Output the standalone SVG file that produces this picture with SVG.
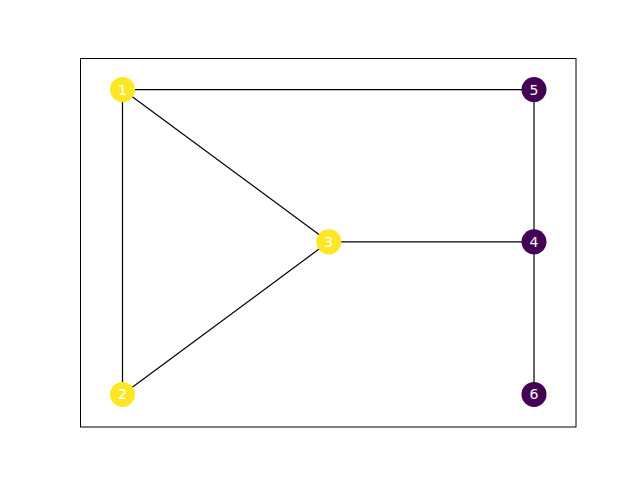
<svg xmlns="http://www.w3.org/2000/svg" width="640" height="480" viewBox="0 0 640 480">
<style>
.e{stroke:#000;stroke-width:1.2;fill:none}
.y{fill:#fde725}
.p{fill:#440154}
.t{font-family:"DejaVu Sans",sans-serif;font-size:14px;fill:#fff;text-anchor:middle;dominant-baseline:central}
</style>
<rect x="0" y="0" width="640" height="480" fill="#fff"/>
<rect x="80.5" y="58.5" width="495.5" height="368.5" fill="none" stroke="#000" stroke-width="1"/>
<g id="edges">
<line class="e" x1="122.5" y1="89.6" x2="534" y2="89.6"/>
<line class="e" x1="122.5" y1="89.6" x2="122.5" y2="394.4"/>
<line class="e" x1="122.5" y1="89.6" x2="328.8" y2="241.8"/>
<line class="e" x1="122.5" y1="394.4" x2="328.8" y2="241.8"/>
<line class="e" x1="328.8" y1="241.8" x2="534" y2="241.8"/>
<line class="e" x1="534" y1="89.6" x2="534" y2="241.8"/>
<line class="e" x1="534" y1="241.8" x2="534" y2="394.4"/>
</g>
<g id="n1"><circle class="y" cx="122.5" cy="89.6" r="12.5"/><text class="t" x="122.5" y="89.6">1</text></g>
<g id="n2"><circle class="y" cx="122.5" cy="394.4" r="12.5"/><text class="t" x="122.5" y="394.4">2</text></g>
<g id="n3"><circle class="y" cx="328.8" cy="241.8" r="12.5"/><text class="t" x="328.8" y="241.8">3</text></g>
<g id="n4"><circle class="p" cx="534" cy="241.8" r="12.5"/><text class="t" x="534" y="241.8">4</text></g>
<g id="n5"><circle class="p" cx="534" cy="89.6" r="12.5"/><text class="t" x="534" y="89.6">5</text></g>
<g id="n6"><circle class="p" cx="534" cy="394.4" r="12.5"/><text class="t" x="534" y="394.4">6</text></g>
</svg>
